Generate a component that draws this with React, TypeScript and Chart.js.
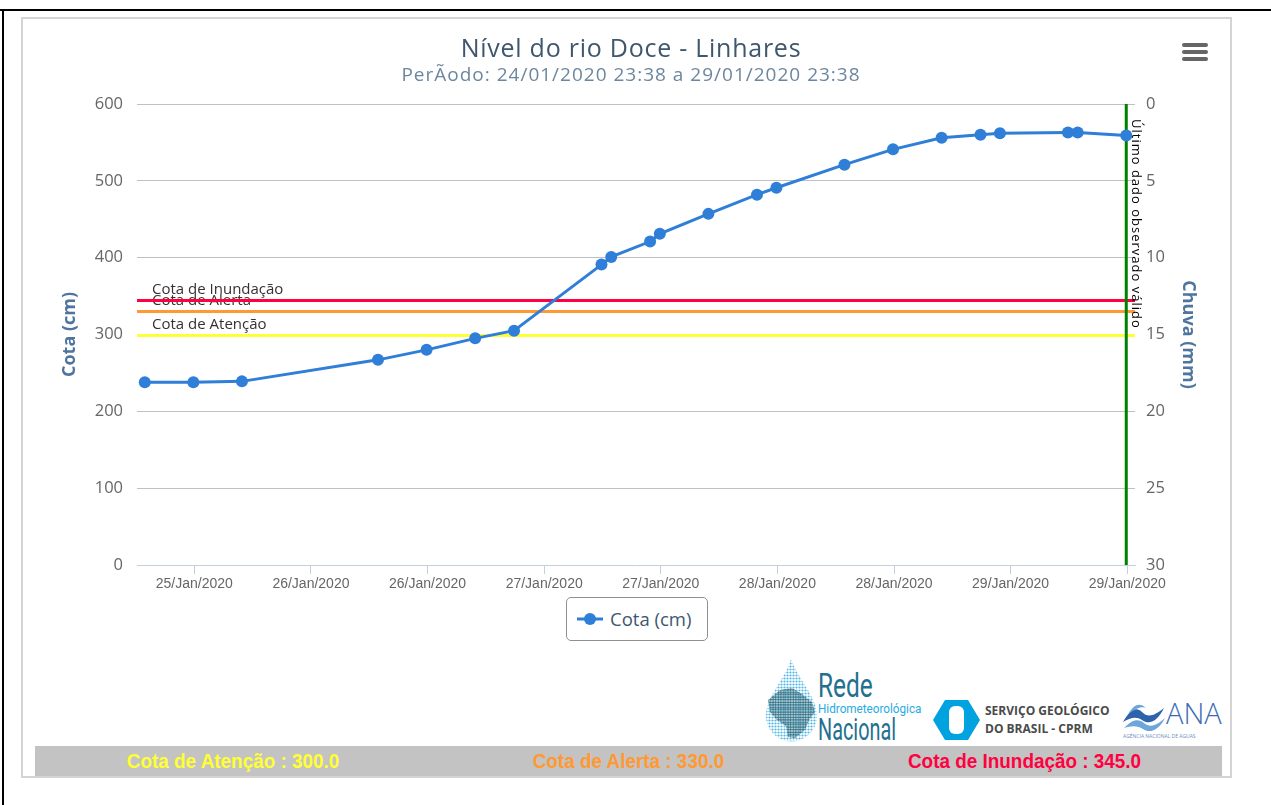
import React, { useEffect, useRef } from "react";
import { Chart, registerables } from "chart.js";

Chart.register(...registerables);

// ---- data ----
const TITLE = "Nível do rio Doce - Linhares";
const SUBTITLE = "PerÃodo: 24/01/2020 23:38 a 29/01/2020 23:38";
const SERIES_NAME = "Cota (cm)";

const TIMES = [
  "25/01 06:54", "25/01 11:54", "25/01 16:54", "26/01 06:54", "26/01 11:54",
  "26/01 16:54", "26/01 20:54", "27/01 05:54", "27/01 06:54", "27/01 10:54",
  "27/01 11:54", "27/01 16:54", "27/01 21:54", "27/01 23:54", "28/01 06:54",
  "28/01 11:54", "28/01 16:54", "28/01 20:54", "28/01 22:54", "29/01 05:54",
  "29/01 06:54", "29/01 11:54",
];
const COTA_CM = [
  238, 238, 239, 267, 280, 295, 305, 391, 401, 421, 431, 457, 482, 491, 521,
  541, 556, 560, 562, 563, 563, 559,
];

const TICK_TIMES = [
  "25/01 12:00", "26/01 00:00", "26/01 12:00", "27/01 00:00", "27/01 12:00",
  "28/01 00:00", "28/01 12:00", "29/01 00:00", "29/01 12:00",
];
const TICK_LABELS = [
  "25/Jan/2020", "26/Jan/2020", "26/Jan/2020", "27/Jan/2020", "27/Jan/2020",
  "28/Jan/2020", "28/Jan/2020", "29/Jan/2020", "29/Jan/2020",
];
const X_RANGE = ["25/01 06:06", "29/01 12:48"];
const COTA_RANGE = [0, 600];
const COTA_STEP = 100;
const CHUVA_RANGE = [0, 30];
const CHUVA_STEP = 5;

const REF_NAMES = ["Cota de Atenção", "Cota de Alerta", "Cota de Inundação"];
const REF_VALUES = [300, 330, 345];
const REF_COLORS = ["#ffff33", "#ff9933", "#ff0040"];

const LAST_VALID_TIME = "29/01 11:54";
const LAST_VALID_LABEL = "Último dado observado válido";

// hours relative to 25/01 12:00
const toHours = (s: string) => {
  const [d, t] = s.split(" ");
  const day = Number(d.split("/")[0]);
  const [hh, mm] = t.split(":").map(Number);
  return (day - 25) * 24 + hh + mm / 60 - 12;
};

const BLUE = "#2f7ed8";

const refPlugin = {
  id: "refLines",
  beforeDatasetsDraw(chart: any) {
    const { ctx, chartArea, scales } = chart;
    const y = scales.y;
    const x = scales.x;
    ctx.save();
    ctx.font = '15px "Open Sans"';
    ctx.fillStyle = "#333333";
    ctx.textAlign = "left";
    ctx.textBaseline = "alphabetic";
    REF_VALUES.forEach((v, i) => {
      const py = y.getPixelForValue(v);
      ctx.fillText(REF_NAMES[i], chartArea.left + 15, py - 6);
    });
    REF_VALUES.forEach((v, i) => {
      const py = Math.round(y.getPixelForValue(v)) + 0.5;
      ctx.strokeStyle = REF_COLORS[i];
      ctx.lineWidth = 3;
      ctx.beginPath();
      ctx.moveTo(chartArea.left, py);
      ctx.lineTo(chartArea.right, py);
      ctx.stroke();
    });
    const gx = x.getPixelForValue(toHours(LAST_VALID_TIME));
    ctx.strokeStyle = "#008000";
    ctx.lineWidth = 3;
    ctx.beginPath();
    ctx.moveTo(gx, chartArea.top);
    ctx.lineTo(gx, chartArea.bottom);
    ctx.stroke();
    ctx.restore();
  },
  afterDatasetsDraw(chart: any) {
    const { ctx, chartArea, scales } = chart;
    const gx = scales.x.getPixelForValue(toHours(LAST_VALID_TIME));
    ctx.save();
    ctx.translate(gx + 9, chartArea.top + 15);
    ctx.rotate(Math.PI / 2);
    ctx.font = '13px "Open Sans"';
    try { (ctx as any).letterSpacing = "1px"; } catch (e) {}
    ctx.fillStyle = "#000000";
    ctx.textAlign = "left";
    ctx.textBaseline = "middle";
    ctx.fillText(LAST_VALID_LABEL, 0, 0);
    ctx.restore();
  },
};

function ChartCanvas() {
  const ref = useRef<HTMLCanvasElement | null>(null);
  useEffect(() => {
    if (!ref.current) return;
    const tickHours = TICK_TIMES.map(toHours);
    const chart = new Chart(ref.current, {
      type: "line",
      data: {
        datasets: [
          {
            label: SERIES_NAME,
            data: TIMES.map((t, i) => ({ x: toHours(t), y: COTA_CM[i] })),
            borderColor: BLUE,
            backgroundColor: BLUE,
            borderWidth: 3,
            pointRadius: 6,
            pointBackgroundColor: BLUE,
            pointBorderWidth: 0,
            tension: 0,
            yAxisID: "y",
          },
        ],
      },
      options: {
        responsive: false,
        animation: false,
        devicePixelRatio: 1,
        layout: { padding: { top: 104, left: 59, right: 72, bottom: 0 } },
        plugins: { legend: { display: false }, tooltip: { enabled: false } },
        scales: {
          x: {
            type: "linear",
            min: toHours(X_RANGE[0]),
            max: toHours(X_RANGE[1]),
            afterBuildTicks: (s: any) => {
              s.ticks = tickHours.map((v) => ({ value: v }));
            },
            afterFit: (s: any) => {
              s.height = 35;
            },
            ticks: {
              autoSkip: false,
              maxRotation: 0,
              minRotation: 0,
              padding: 2,
              color: "#666666",
              font: { family: '"Liberation Sans", Arial, sans-serif', size: 14 },
              callback: (v: any) => TICK_LABELS[tickHours.indexOf(v)] ?? "",
            },
            grid: {
              drawOnChartArea: false,
              drawTicks: true,
              tickLength: 9,
              color: "#C0D0E0",
              lineWidth: 1,
            },
            border: { display: true, color: "#C0D0E0", width: 1 },
          },
          y: {
            type: "linear",
            position: "left",
            min: COTA_RANGE[0],
            max: COTA_RANGE[1],
            afterFit: (s: any) => {
              s.width = 78;
            },
            ticks: {
              stepSize: COTA_STEP,
              padding: 14,
              color: "#666666",
              font: { family: '"Open Sans", sans-serif', size: 16.5 },
            },
            grid: {
              drawTicks: false,
              color: (c: any) => (c.tick && c.tick.value === 0 ? "rgba(0,0,0,0)" : "#C0C0C0"),
              lineWidth: 1,
            },
            border: { display: false },
            title: {
              display: true,
              text: "Cota (cm)",
              color: "#4d759e",
              padding: 0,
              font: { family: '"Open Sans", sans-serif', size: 18, weight: "bold" },
            },
          },
          y1: {
            type: "linear",
            position: "right",
            min: CHUVA_RANGE[0],
            max: CHUVA_RANGE[1],
            reverse: true,
            afterFit: (s: any) => {
              s.width = 64;
            },
            ticks: {
              stepSize: CHUVA_STEP,
              padding: 11,
              color: "#666666",
              font: { family: '"Open Sans", sans-serif', size: 16.5 },
            },
            grid: { drawOnChartArea: false, drawTicks: false },
            border: { display: false },
            title: {
              display: true,
              text: "Chuva (mm)",
              color: "#4d759e",
              padding: 0,
              font: { family: '"Open Sans", sans-serif', size: 18, weight: "bold" },
            },
          },
        },
      },
      plugins: [refPlugin],
    } as any);
    return () => chart.destroy();
  }, []);
  return (
    <canvas
      ref={ref}
      width={1271}
      height={600}
      style={{ position: "absolute", left: 0, top: 0, width: 1271, height: 600 }}
    />
  );
}

const abs = (o: React.CSSProperties): React.CSSProperties => ({ position: "absolute", ...o });

function Logos() {
  return (
    <>
      <svg style={abs({ left: 762, top: 656 })} width={60} height={90}>
        <defs>
          <pattern id="dotsA" width="3" height="3" patternUnits="userSpaceOnUse">
            <circle cx="1.5" cy="1.5" r="1.1" fill="#55b6e4" />
          </pattern>
          <pattern id="dotsB" width="2.5" height="2.5" patternUnits="userSpaceOnUse">
            <circle cx="1.25" cy="1.25" r="1.1" fill="#2a6577" />
          </pattern>
        </defs>
        <path d="M29 3 C24 22 4 40 4 60 A25.5 25.5 0 0 0 55 60 C55 40 35 22 29 3 Z" fill="url(#dotsA)" />
        <path d="M6 44 L18 34 L30 32 L40 38 L50 46 L53 56 L47 64 L43 74 L33 82 L26 81 L24 70 L15 64 L8 56 Z" fill="url(#dotsB)" />
      </svg>
      <div style={abs({ left: 818, top: 668, fontFamily: "Roboto, sans-serif", fontSize: 33, lineHeight: "36px", color: "#23708f", transform: "scaleX(0.74)", transformOrigin: "left", whiteSpace: "nowrap" })}>Rede</div>
      <div style={abs({ left: 818, top: 701, fontFamily: "Roboto, sans-serif", fontSize: 13, lineHeight: "16px", color: "#29abe2", transform: "scaleX(0.9)", transformOrigin: "left", whiteSpace: "nowrap" })}>Hidrometeorológica</div>
      <div style={abs({ left: 818, top: 713, fontFamily: "Roboto, sans-serif", fontSize: 31, lineHeight: "34px", color: "#23708f", transform: "scaleX(0.64)", transformOrigin: "left", whiteSpace: "nowrap" })}>Nacional</div>

      <svg style={abs({ left: 932, top: 699 })} width={50} height={44}>
        <path d="M1 21 L13 1 L36 1 L48 21 L36 41 L13 41 Z" fill="#00a3e0" />
        <rect x="17" y="7" width="15" height="28" rx="6" fill="#ffffff" />
      </svg>
      <div style={abs({ left: 985, top: 703, fontFamily: '"Open Sans", sans-serif', fontWeight: 700, fontSize: 12, lineHeight: "16px", color: "#4a4a4a", whiteSpace: "nowrap" })}>SERVIÇO GEOLÓGICO</div>
      <div style={abs({ left: 985, top: 721, fontFamily: '"Open Sans", sans-serif', fontWeight: 700, fontSize: 12, lineHeight: "16px", color: "#4a4a4a", whiteSpace: "nowrap" })}>DO BRASIL - CPRM</div>

      <svg style={abs({ left: 1122, top: 700 })} width={44} height={34}>
        <path d="M1 22 C8 10 14 6 20 12 C26 18 32 16 42 8 C36 20 28 26 20 20 C14 16 8 18 1 22 Z" fill="#2d62ad" />
        <path d="M2 28 C10 20 16 18 22 23 C28 28 34 26 43 18 C37 30 28 34 21 29 C15 25 9 26 2 28 Z" fill="#6ea6dc" />
        <path d="M6 14 C12 4 18 2 24 8 C20 6 14 8 6 14 Z" fill="#6ea6dc" />
      </svg>
      <div style={abs({ left: 1166, top: 697, fontFamily: '"Open Sans", sans-serif', fontWeight: 300, fontSize: 29, lineHeight: "32px", color: "#3c6db4", whiteSpace: "nowrap" })}>ANA</div>
      <div style={abs({ left: 1123, top: 733, fontFamily: '"Open Sans", sans-serif', fontSize: 5, lineHeight: "6px", color: "#6a8fbf", whiteSpace: "nowrap" })}>AGÊNCIA NACIONAL DE ÁGUAS</div>
    </>
  );
}

export default function App() {
  const barText = (color: string, text: string) => (
    <div style={{ flex: 1, textAlign: "center" }}>
      <span style={{ display: "inline-block", color, fontFamily: '"Liberation Sans", Arial, sans-serif', fontWeight: 700, fontSize: 21, lineHeight: "24px", transform: "scaleX(0.9)", whiteSpace: "nowrap" }}>{text}</span>
    </div>
  );
  return (
    <div style={{ position: "fixed", left: 0, top: 0, width: 1271, height: 805, background: "#ffffff", overflow: "hidden" }}>
      {/* outer frame */}
      <div style={abs({ left: 0, top: 9, width: 1271, height: 2, background: "#000" })} />
      <div style={abs({ left: 2, top: 9, width: 2, height: 796, background: "#000" })} />
      {/* panel */}
      <div style={abs({ left: 21, top: 17, width: 1211, height: 761, border: "2px solid #d4d4d4", boxSizing: "border-box" })} />

      <ChartCanvas />

      {/* title */}
      <div style={abs({ left: 0, top: 30, width: 1262, textAlign: "center", fontFamily: '"Open Sans", sans-serif', fontSize: 25, letterSpacing: 0.75, lineHeight: "34px", color: "#3e576f", whiteSpace: "nowrap" })}>{TITLE}</div>
      <div style={abs({ left: 0, top: 62, width: 1262, textAlign: "center", fontFamily: '"Open Sans", sans-serif', fontSize: 19, letterSpacing: 1, lineHeight: "24px", color: "#6d869f", whiteSpace: "nowrap" })}>{SUBTITLE}</div>

      {/* menu icon */}
      {[43, 50, 57].map((t) => (
        <div key={t} style={abs({ left: 1182, top: t, width: 26, height: 4, borderRadius: 2, background: "#666666" })} />
      ))}

      {/* legend */}
      <div style={abs({ left: 566, top: 597, width: 142, height: 44, border: "1px solid #909090", borderRadius: 5, boxSizing: "border-box", background: "#fff" })}>
        <svg style={abs({ left: 10, top: 11 })} width={28} height={20}>
          <line x1="0" y1="10" x2="26" y2="10" stroke={BLUE} strokeWidth={3} />
          <circle cx="13" cy="10" r="6" fill={BLUE} />
        </svg>
        <div style={abs({ left: 43, top: 8, fontFamily: '"Open Sans", sans-serif', fontSize: 18.5, lineHeight: "26px", color: "#3e576f", whiteSpace: "nowrap" })}>{SERIES_NAME}</div>
      </div>

      <Logos />

      {/* bottom bar */}
      <div style={abs({ left: 35, top: 746, width: 1187, height: 30, background: "#c3c3c3", display: "flex", alignItems: "center" })}>
        {barText(REF_COLORS[0], `${REF_NAMES[0]} : ${REF_VALUES[0].toFixed(1)}`)}
        {barText(REF_COLORS[1], `${REF_NAMES[1]} : ${REF_VALUES[1].toFixed(1)}`)}
        {barText(REF_COLORS[2], `${REF_NAMES[2]} : ${REF_VALUES[2].toFixed(1)}`)}
      </div>
    </div>
  );
}
